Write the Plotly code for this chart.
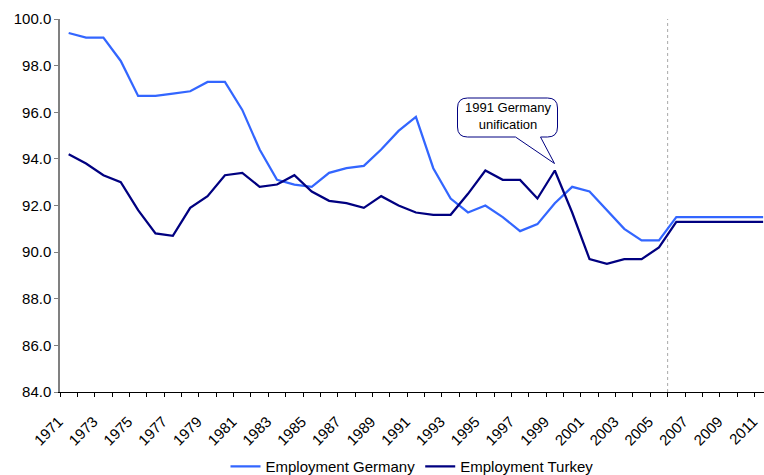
import plotly.graph_objects as go

years = list(range(1971, 2012))
germany = [99.4, 99.2, 99.2, 98.2, 96.7, 96.7, 96.8, 96.9, 97.3, 97.3,
           96.1, 94.4, 93.1, 92.9, 92.8, 93.4, 93.6, 93.7, 94.4, 95.2,
           95.8, 93.6, 92.3, 91.7, 92.0, 91.5, 90.9, 91.2, 92.1, 92.8,
           92.6, 91.8, 91.0, 90.5, 90.5, 91.5, 91.5, 91.5, 91.5, 91.5,
           91.5]
turkey = [94.2, 93.8, 93.3, 93.0, 91.8, 90.8, 90.7, 91.9, 92.4, 93.3,
          93.4, 92.8, 92.9, 93.3, 92.6, 92.2, 92.1, 91.9, 92.4, 92.0,
          91.7, 91.6, 91.6, 92.5, 93.5, 93.1, 93.1, 92.3, 93.5, 91.7,
          89.7, 89.5, 89.7, 89.7, 90.2, 91.3, 91.3, 91.3, 91.3, 91.3,
          91.3]
tick_years = list(range(1971, 2012, 2))
tick_labels = [str(y) for y in tick_years]
y_ticks = [84, 86, 88, 90, 92, 94, 96, 98, 100]
callout_text = "1991 Germany<br>unification"
forecast_start = 2005.5

FONT = "Liberation Sans, Arial, sans-serif"
W, H = 764, 475
ML, MR, MT, MB = 60, 0, 19, 83
XR = [1970.5, 2011.05]
YR = [84, 100]

def px2x(px):
    return XR[0] + (px - ML) / (W - ML - MR) * (XR[1] - XR[0])

def py2y(py):
    return YR[1] - (py - MT) / (H - MT - MB) * (YR[1] - YR[0])

fig = go.Figure()
fig.add_trace(go.Scatter(x=years, y=germany, mode="lines", name="Employment Germany",
                         line=dict(color="#3366FF", width=2.25)))
fig.add_trace(go.Scatter(x=years, y=turkey, mode="lines", name="Employment Turkey",
                         line=dict(color="#000080", width=2.25)))

# callout box (rounded rect with tail), pixel geometry converted to data coords
L, R, T, B, r = 457.5, 557.5, 98.0, 137.0, 10.0
tl, tr, tipx, tipy = 515.5, 540.5, 554.5, 163.5
pts = [
    ("M", [(L + r, T)]),
    ("L", [(R - r, T)]),
    ("Q", [(R, T), (R, T + r)]),
    ("L", [(R, B - r)]),
    ("Q", [(R, B), (R - r, B)]),
    ("L", [(tr, B)]),
    ("L", [(tipx, tipy)]),
    ("L", [(tl, B)]),
    ("L", [(L + r, B)]),
    ("Q", [(L, B), (L, B - r)]),
    ("L", [(L, T + r)]),
    ("Q", [(L, T), (L + r, T)]),
]
path = ""
for cmd, ps in pts:
    path += cmd + " ".join(f"{px2x(a):.4f},{py2y(b):.4f}" for a, b in ps) + " "
path += "Z"

fig.add_shape(type="path", path=path, xref="x", yref="y",
              line=dict(color="#000080", width=1), fillcolor="white", layer="above")
fig.add_shape(type="line", x0=forecast_start, x1=forecast_start, y0=0, y1=1,
              xref="x", yref="paper", line=dict(color="#A8A8A8", width=1, dash="dot"),
              layer="below")
fig.add_annotation(x=px2x(507.5), y=py2y(116), xref="x", yref="y", text=callout_text,
                   showarrow=False, font=dict(family=FONT, size=13, color="black"),
                   align="center")

fig.update_layout(
    width=W, height=H,
    margin=dict(l=ML, r=MR, t=MT, b=MB, autoexpand=False),
    paper_bgcolor="white", plot_bgcolor="white",
    font=dict(family=FONT, size=15, color="black"),
    showlegend=True,
    legend=dict(orientation="h", x=0.5, xanchor="center", y=-0.2, yanchor="middle",
                font=dict(family=FONT, size=15, color="black"), itemwidth=30),
    xaxis=dict(range=XR, tickmode="array", tickvals=tick_years, ticktext=tick_labels,
               tickangle=-45, ticks="", showgrid=False, zeroline=False, automargin=False,
               ticklabeloverflow="allow", ticklabelstandoff=14, ticklabelshift=-10,
               showline=True, linecolor="black", linewidth=1,
               minor=dict(ticks="outside", ticklen=4, tickcolor="black",
                          tickmode="linear", tick0=1970.5, dtick=1, showgrid=False),
               tickfont=dict(family=FONT, size=15, color="black")),
    yaxis=dict(range=YR, tickvals=y_ticks, tickformat=".1f", ticks="outside", ticklen=4,
               tickcolor="#808080", showgrid=False, zeroline=False, automargin=False,
               showline=True, linecolor="#808080", linewidth=1.5,
               tickfont=dict(family=FONT, size=15, color="black")),
)

fig.write_html("out.html", config={"displayModeBar": False},
               post_script="document.body.style.margin='0';document.body.style.overflow='hidden';")
